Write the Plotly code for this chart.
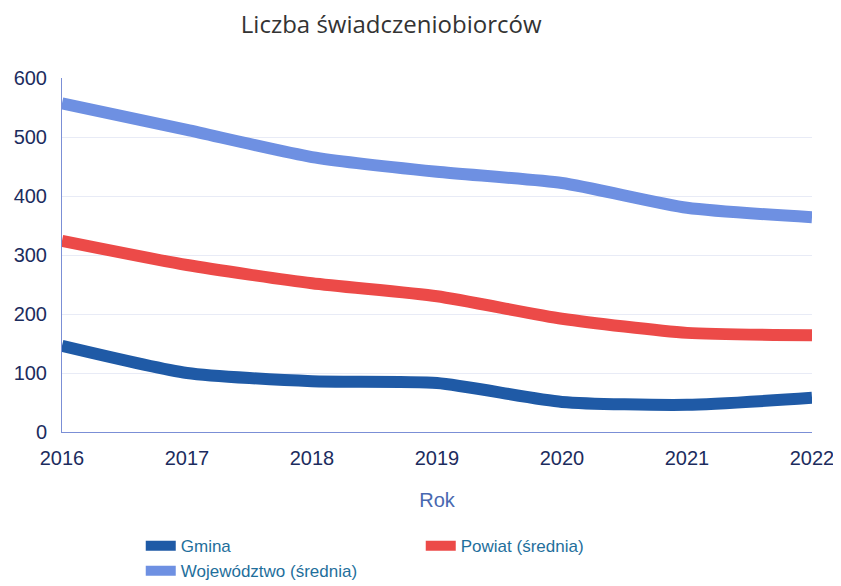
import plotly.graph_objects as go

years = [2016, 2017, 2018, 2019, 2020, 2021, 2022]
gmina = [146, 100, 86, 83, 51, 46, 58]
powiat = [324, 283, 252, 230, 192, 168, 164]
wojewodztwo = [557, 512, 466, 441, 422, 380, 364]

series = [
    ("Gmina", gmina, "#1f5aa6"),
    ("Powiat (średnia)", powiat, "#ec4a48"),
    ("Województwo (średnia)", wojewodztwo, "#6e90e2"),
]

fig = go.Figure()
for name, vals, col in series:
    fig.add_trace(go.Scatter(
        x=years, y=vals, name=name, mode="lines",
        line=dict(color=col, width=12, shape="spline", smoothing=0.6),
    ))

fig.update_layout(
    width=833, height=578,
    margin=dict(l=54, r=29, t=70, b=154, autoexpand=False),
    paper_bgcolor="white", plot_bgcolor="white",
    font=dict(family="Liberation Sans, Arial, sans-serif", color="#1c2c5e"),
    title=dict(text="Liczba świadczeniobiorców", x=0.46, xanchor="center",
               y=0.972, yanchor="middle",
               font=dict(size=24, color="#333333", family="Open Sans, sans-serif")),
    showlegend=True,
    legend=dict(orientation="h", x=0.105, xanchor="left",
                yref="container", y=0.1, yanchor="top",
                entrywidth=235, entrywidthmode="pixels",
                font=dict(size=17, color="#1f6f9c"), tracegroupgap=0),
)
fig.update_xaxes(
    range=[2016, 2022], tickvals=years, showgrid=False,
    showline=True, linecolor="#7b8fd6", linewidth=1,
    tickfont=dict(size=20, color="#1c2c5e"), ticks="", ticklabelstandoff=8,
    title=dict(text="Rok", font=dict(size=20, color="#4868b0"), standoff=24),
)
fig.update_yaxes(
    range=[0, 600], dtick=100, showgrid=True, gridcolor="#e8ebf6",
    showline=True, linecolor="#7b8fd6", linewidth=1, zeroline=False,
    tickfont=dict(size=20, color="#1c2c5e"), ticks="", ticklabelstandoff=10,
)

fig.write_html("out.html")
